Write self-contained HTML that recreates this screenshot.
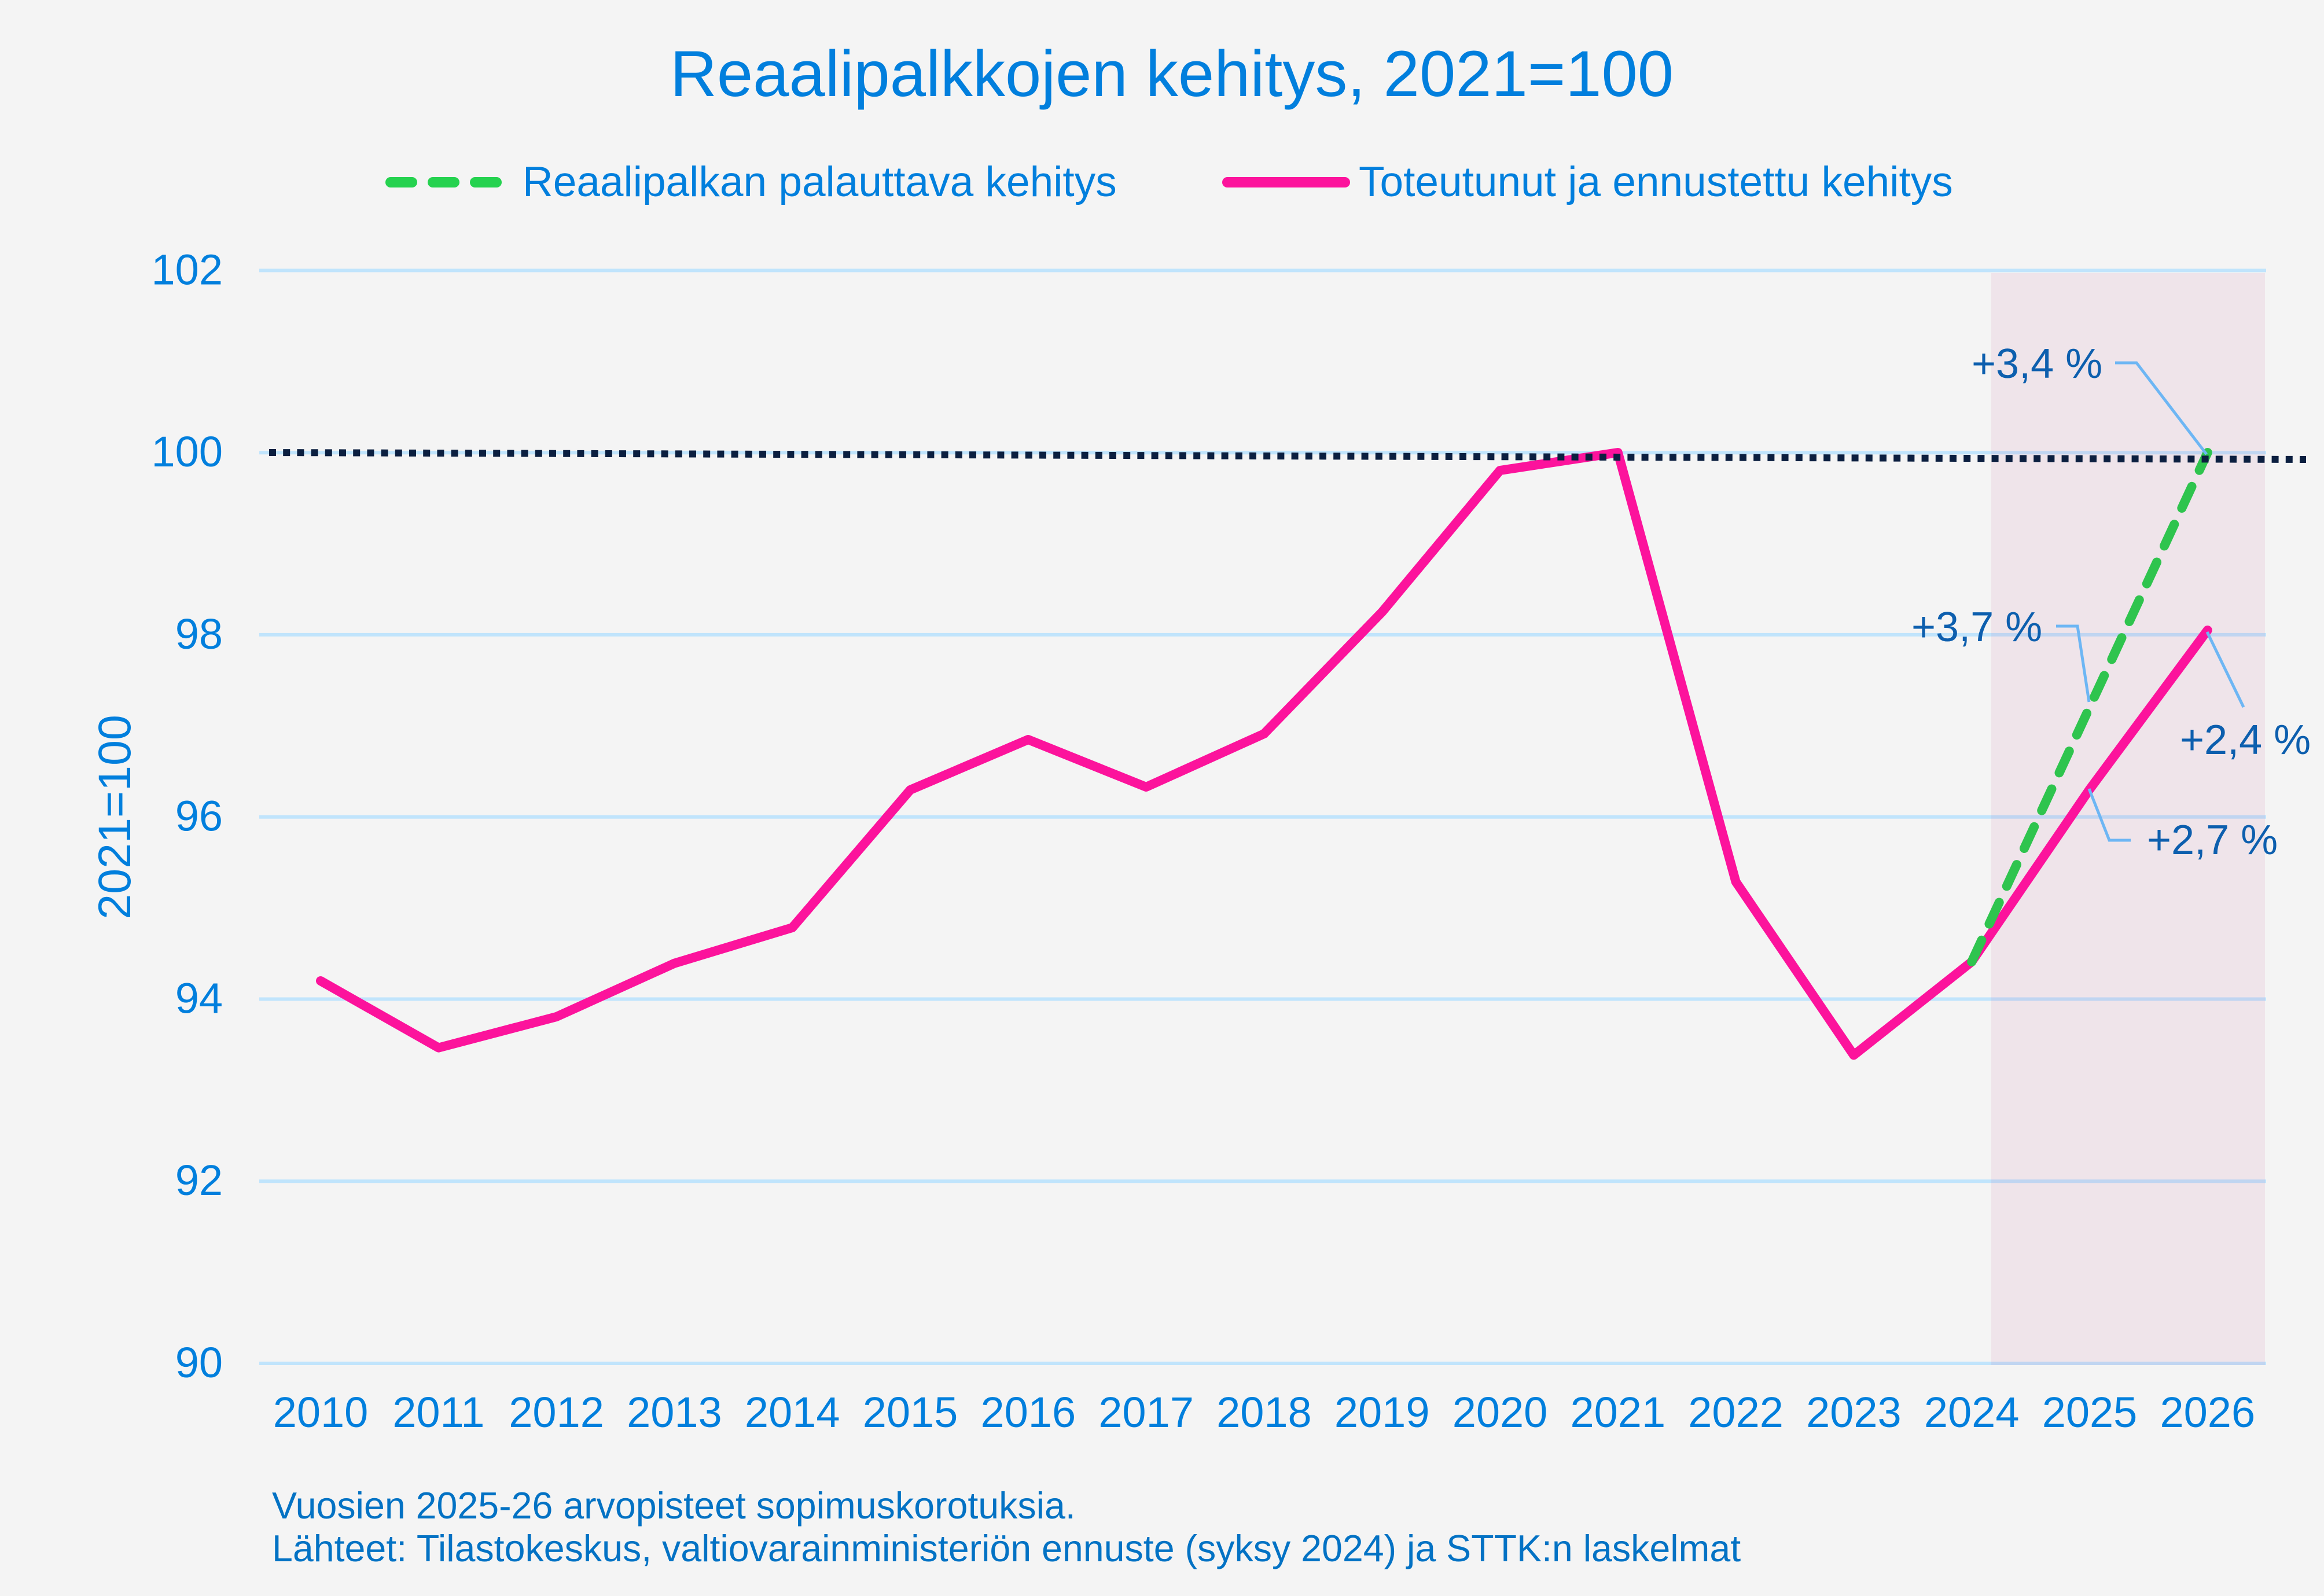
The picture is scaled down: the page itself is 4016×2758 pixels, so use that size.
<!DOCTYPE html>
<html>
<head>
<meta charset="utf-8">
<style>
  html, body { margin: 0; padding: 0; background: #f4f4f4; }
  svg { display: block; }
  text { font-family: "Liberation Sans", Arial, sans-serif; }
</style>
</head>
<body>
<svg width="4016" height="2758" viewBox="0 0 4016 2758" xmlns="http://www.w3.org/2000/svg">
  <rect x="0" y="0" width="4016" height="2758" fill="#f4f4f4"/>

  <!-- Title -->
  <text x="1158" y="166" font-size="112" fill="#017fdd">Reaalipalkkojen kehitys, 2021=100</text>

  <!-- Legend -->
  <line x1="675" y1="315" x2="858" y2="315" stroke="#25d24f" stroke-width="18" stroke-linecap="round" stroke-dasharray="37 36"/>
  <text x="903" y="339" font-size="73" fill="#017fdd">Reaalipalkan palauttava kehitys</text>
  <line x1="2121" y1="315" x2="2324" y2="315" stroke="#fc139c" stroke-width="18" stroke-linecap="round"/>
  <text x="2348" y="339" font-size="73" fill="#017fdd">Toteutunut ja ennustettu kehitys</text>

  <!-- Gridlines -->
  <g stroke="#c0e4fc" stroke-width="6">
    <line x1="448" y1="467.4" x2="3916" y2="467.4"/>
    <line x1="448" y1="782.2" x2="3916" y2="782.2"/>
    <line x1="448" y1="1096.9" x2="3916" y2="1096.9"/>
    <line x1="448" y1="1411.7" x2="3916" y2="1411.7"/>
    <line x1="448" y1="1726.5" x2="3916" y2="1726.5"/>
    <line x1="448" y1="2041.2" x2="3916" y2="2041.2"/>
    <line x1="448" y1="2356" x2="3916" y2="2356"/>
  </g>

  <!-- Forecast shade -->
  <rect x="3441" y="472" width="473" height="1887" fill="rgb(194,84,144)" fill-opacity="0.1"/>

  <!-- Y tick labels -->
  <g font-size="74" fill="#017fdd" text-anchor="end">
    <text x="385" y="491.4">102</text>
    <text x="385" y="806.2">100</text>
    <text x="385" y="1120.9">98</text>
    <text x="385" y="1435.7">96</text>
    <text x="385" y="1750.5">94</text>
    <text x="385" y="2065.2">92</text>
    <text x="385" y="2380">90</text>
  </g>

  <!-- Y axis title -->
  <text transform="translate(225,1412) rotate(-90)" text-anchor="middle" font-size="79" fill="#017fdd">2021=100</text>

  <!-- X tick labels -->
  <g font-size="74" fill="#017fdd" text-anchor="middle">
    <text x="554" y="2466">2010</text>
    <text x="757.8" y="2466">2011</text>
    <text x="961.6" y="2466">2012</text>
    <text x="1165.4" y="2466">2013</text>
    <text x="1369.2" y="2466">2014</text>
    <text x="1573" y="2466">2015</text>
    <text x="1776.8" y="2466">2016</text>
    <text x="1980.6" y="2466">2017</text>
    <text x="2184.4" y="2466">2018</text>
    <text x="2388.2" y="2466">2019</text>
    <text x="2592" y="2466">2020</text>
    <text x="2795.8" y="2466">2021</text>
    <text x="2999.6" y="2466">2022</text>
    <text x="3203.4" y="2466">2023</text>
    <text x="3407.2" y="2466">2024</text>
    <text x="3611" y="2466">2025</text>
    <text x="3814.8" y="2466">2026</text>
  </g>

  <!-- Pink series -->
  <polyline fill="none" stroke="#fc139c" stroke-width="16" stroke-linejoin="round" stroke-linecap="round"
    points="554,1695 757.8,1810.6 961.6,1757 1165.4,1664.7 1369.2,1603 1573,1365 1776.8,1278 1980.6,1360 2184.4,1268 2388.2,1057.7 2592,813 2795.8,782 2999.6,1523.8 3203.4,1823.4 3407.2,1662 3611,1364 3814.8,1089"/>

  <!-- Green dashed series -->
  <line x1="3407.2" y1="1662" x2="3814.8" y2="782" stroke="#2fc44e" stroke-width="16" stroke-linecap="round" stroke-dasharray="41 31"/>

  <!-- Dotted 100 reference line -->
  <line x1="465" y1="782" x2="3985" y2="794" stroke="#0b1f40" stroke-width="12" stroke-dasharray="12 12.2"/>

  <!-- Annotation leaders -->
  <g fill="none" stroke="#6db6f4" stroke-width="5">
    <polyline points="3655,627 3692,627 3813,785"/>
    <polyline points="3553,1082 3590,1082 3610,1213"/>
    <polyline points="3814,1092 3877,1222"/>
    <polyline points="3610,1363 3645,1452 3682,1452"/>
  </g>

  <!-- Annotation texts -->
  <g font-size="72" fill="#0d5fae">
    <text x="3407" y="653">+3,4 %</text>
    <text x="3303" y="1108">+3,7 %</text>
    <text x="3767" y="1303">+2,4 %</text>
    <text x="3710" y="1476">+2,7 %</text>
  </g>

  <!-- Footer -->
  <g font-size="64.5" fill="#0372c4">
    <text x="470" y="2624">Vuosien 2025-26 arvopisteet sopimuskorotuksia.</text>
    <text x="470" y="2698">Lähteet: Tilastokeskus, valtiovarainministeriön ennuste (syksy 2024) ja STTK:n laskelmat</text>
  </g>
</svg>
</body>
</html>
